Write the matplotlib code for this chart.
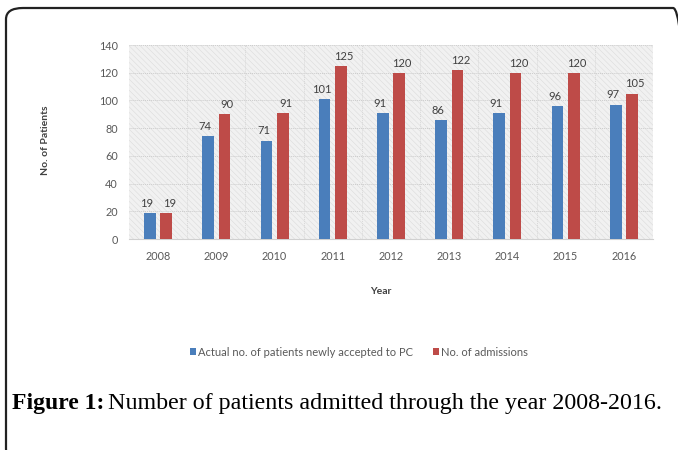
import matplotlib
matplotlib.use("Agg")
import matplotlib.pyplot as plt
import numpy as np
from matplotlib.patches import FancyBboxPatch, Rectangle

years = ["2008", "2009", "2010", "2011", "2012", "2013", "2014", "2015", "2016"]
accepted = [19, 74, 71, 101, 91, 86, 91, 96, 97]
admissions = [19, 90, 91, 125, 120, 122, 120, 120, 105]
series_names = ["Actual no. of patients newly accepted to PC", "No. of admissions"]
y_ticks = [0, 20, 40, 60, 80, 100, 120, 140]

plt.rcParams["hatch.linewidth"] = 0.4

W, H = 678, 450
fig = plt.figure(figsize=(W / 100, H / 100), dpi=100)
fig.patch.set_facecolor("white")

# outer rounded frame
frame = FancyBboxPatch((6 / W, (H - 460) / H), (690 - 6) / W, (460 - 8) / H,
                       boxstyle="round,pad=0,rounding_size=0.025",
                       transform=fig.transFigure, facecolor="none",
                       edgecolor="#222222", linewidth=1.6, zorder=0)
fig.patches.append(frame)

ax = fig.add_axes([129 / W, 1 - 239 / H, (653 - 129) / W, (239 - 45) / H])
ax.set_facecolor("#f1f1f1")
bg = Rectangle((0, 0), 1, 1, transform=ax.transAxes, facecolor="none",
               edgecolor="#dcdcdc", hatch="\\\\\\\\\\\\", linewidth=0, zorder=0)
ax.add_patch(bg)

x = np.arange(len(years))
bw = 0.2
off = 0.14
blue = "#4A7EBB"
red = "#BE4B48"
b1 = ax.bar(x - off, accepted, bw, color=blue, zorder=3, label=series_names[0])
b2 = ax.bar(x + off, admissions, bw, color=red, zorder=3, label=series_names[1])

lab_font = dict(fontsize=8, color="#404040", family="Lato")
for xi, v in zip(x, accepted):
    ax.text(xi - off - 0.05, v + 3, str(v), ha="center", va="bottom", **lab_font)
for xi, v in zip(x, admissions):
    ax.text(xi + off + 0.05, v + 3, str(v), ha="center", va="bottom", **lab_font)

ax.set_xlim(-0.5, len(years) - 0.5)
ax.set_ylim(0, 140)
ax.set_yticks(y_ticks)
ax.set_yticklabels([str(t) for t in y_ticks], fontsize=7.8, color="#595959", family="Lato")
ax.set_xticks(x)
ax.set_xticklabels(years, fontsize=7.8, color="#595959", family="Lato")
ax.tick_params(length=0, pad=8)
ax.tick_params(axis="x", pad=9)

for t in y_ticks[1:]:
    ax.axhline(t, color="#cccccc", linewidth=0.7, linestyle=(0, (1, 1)), zorder=1)
for xb in np.arange(0.5, len(years) - 0.5, 1):
    ax.axvline(xb, color="#d8d8d8", linewidth=0.7, linestyle=(0, (1, 1)), zorder=1)
for s in ["top", "right", "left"]:
    ax.spines[s].set_visible(False)
ax.spines["bottom"].set_color("#d0d0d0")

fig.text(45 / W, 1 - 140 / H, "No. of Patients", rotation=90, ha="center", va="center",
         fontsize=7.5, color="#404040", family="Lato", fontweight="bold")
fig.text(381 / W, 1 - 291 / H, "Year", ha="center", va="center",
         fontsize=7.5, color="#404040", family="Lato", fontweight="bold")

leg = fig.legend(handles=[b1, b2], labels=series_names, loc="center",
                 bbox_to_anchor=(359 / W, 1 - 352 / H), ncol=2, frameon=False,
                 prop={"family": "Lato", "size": 8}, handlelength=0.55, handleheight=0.55,
                 handletextpad=0.15, columnspacing=1.8)
for t in leg.get_texts():
    t.set_color("#595959")

fig.text(12 / W, 1 - 403 / H, "Figure 1:", ha="left", va="center", fontsize=17,
         family="Liberation Serif", fontweight="bold", color="black")
fig.text(108 / W, 1 - 403 / H, "Number of patients admitted through the year 2008-2016.",
         ha="left", va="center", fontsize=17.3, family="Liberation Serif", color="black")

fig.savefig("out.png", dpi=100)
